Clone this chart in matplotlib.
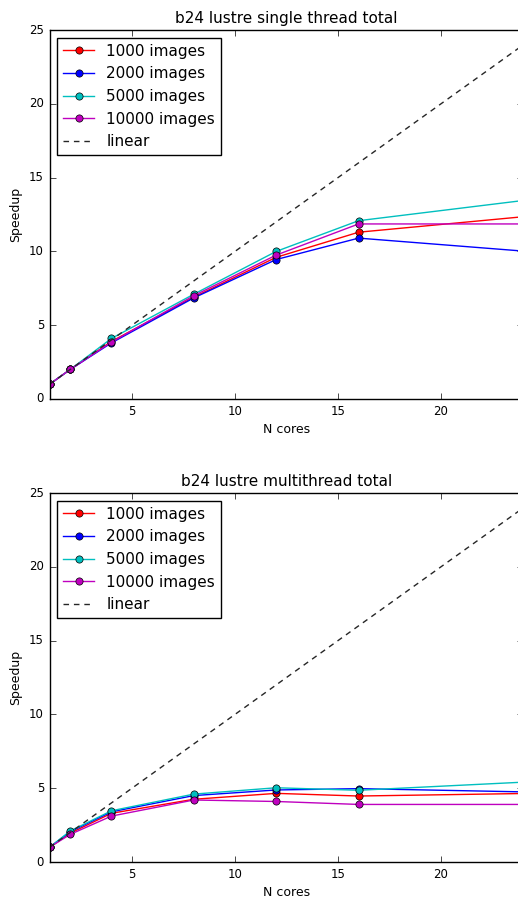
import matplotlib
matplotlib.use("Agg")
import matplotlib.pyplot as plt

plt.style.use("classic")

cores = [1, 2, 4, 8, 12, 16, 24]
labels = ["1000 images", "2000 images", "5000 images", "10000 images"]
colors = ["r", "b", "c", "m"]

single_1000 = [1.0, 2.0, 3.9, 6.9, 9.6, 11.3, 12.35]
single_2000 = [1.0, 2.0, 3.8, 6.85, 9.45, 10.9, 10.02]
single_5000 = [1.0, 2.0, 4.1, 7.1, 10.0, 12.08, 13.45]
single_10000 = [1.0, 2.0, 3.85, 7.0, 9.75, 11.86, 11.86]

multi_1000 = [1.0, 1.95, 3.3, 4.25, 4.65, 4.47, 4.64]
multi_2000 = [1.0, 2.05, 3.4, 4.5, 4.88, 4.97, 4.75]
multi_5000 = [1.0, 2.1, 3.47, 4.6, 5.03, 4.86, 5.41]
multi_10000 = [1.0, 1.87, 3.11, 4.2, 4.1, 3.9, 3.9]

linear = cores

fig = plt.figure(figsize=(5.18, 8.98), dpi=100, facecolor="white")
W, H = 518.0, 898.0

def make_ax(top_px, title, series):
    left = 49.6 / W
    right = (49.6 + 23 * 20.6) / W
    bottom = 1 - (top_px + 369) / H
    ax = fig.add_axes([left, bottom, right - left, 369 / H])
    for lab, col, ys in zip(labels, colors, series):
        ax.plot(cores, ys, color=col, marker="o", markersize=5.2, lw=1,
                markeredgecolor="k", markeredgewidth=0.5, label=lab)
    ax.plot(cores, linear, color="0.15", ls="--", dashes=(4, 3.5), lw=1,
            label="linear")
    ax.set_xlim(1, 24)
    ax.set_ylim(0, 25)
    ax.set_xticks([5, 10, 15, 20])
    ax.set_yticks([0, 5, 10, 15, 20, 25])
    ax.tick_params(labelsize=8.5)
    ax.set_title(title, fontsize=11)
    ax.set_xlabel("N cores", fontsize=9, labelpad=4)
    ax.set_ylabel("Speedup", fontsize=9)
    leg = ax.legend(loc="upper left", numpoints=1, fontsize=11, fancybox=False)
    leg.get_frame().set_edgecolor("k")
    return ax

make_ax(30, "b24 lustre single thread total",
        [single_1000, single_2000, single_5000, single_10000])
make_ax(493, "b24 lustre multithread total",
        [multi_1000, multi_2000, multi_5000, multi_10000])

fig.savefig("out.png", dpi=100, facecolor="white")
